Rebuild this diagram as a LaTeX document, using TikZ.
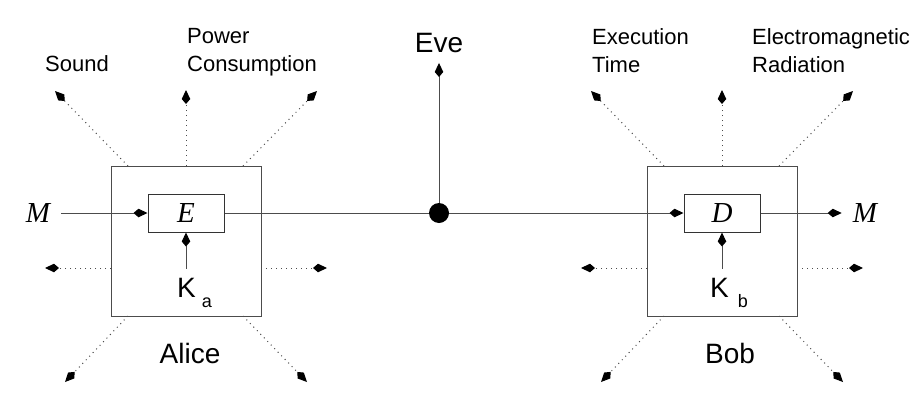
\documentclass[tikz,border=0pt]{standalone}
\usepackage{fontspec}
\setmainfont{Liberation Sans}
\newfontfamily\timesfont{Liberation Serif}
\usetikzlibrary{arrows.meta}
\begin{document}
\begin{tikzpicture}[x=1pt, y=-1pt,
    wire/.style={-{Kite[length=14pt,width=8.5pt,inset=5pt,color=black]}, color=black!70, line width=1pt},
    leak/.style={wire, dash pattern=on 1pt off 4pt},
    box/.style={draw=black!70, line width=1pt, minimum size=150pt, inner sep=0pt},
    cipher/.style={draw=black!80, fill=white, line width=1pt, minimum width=76pt, minimum height=38pt, inner sep=0pt, font=\fontsize{29}{29}\selectfont\timesfont\itshape},
    msg/.style={inner ysep=0pt, inner xsep=11pt, font=\fontsize{29}{29}\selectfont\timesfont\itshape},
    big/.style={inner sep=0pt, font=\fontsize{28}{28}\selectfont},
    small/.style={inner sep=0pt, align=left, font=\fontsize{22}{28}\selectfont}]
  \useasboundingbox (0,0) rectangle (924,410);
  \node[box] (alice) at (186,241) {};
  \node[box] (bob) at (722,241) {};
  \node[cipher] (enc) at (186,213) {E};
  \node[cipher] (dec) at (722,213) {D};
  \node[big, anchor=base west] (ka) at (177,297) {K\hspace{6pt}\raisebox{-10pt}{\fontsize{18}{18}\selectfont a}};
  \node[big, anchor=base west] (kb) at (710,297) {K\hspace{9pt}\raisebox{-10pt}{\fontsize{18}{18}\selectfont b}};
  \node[msg] (min) at (38,213) {M};
  \node[msg] (mout) at (865,213) {M};
  \node[circle, fill=black, minimum size=20pt, inner sep=0pt] (tap) at (439,213) {};
  \node[big] (eve) at (439,43) {Eve};
  \node[big] (alicename) at (190,353) {Alice};
  \node[big] (bobname) at (730,353) {Bob};
  \node[small] (sound) at (77,64) {Sound};
  \node[small, anchor=north west] (power) at (187,28) {Power\\Consumption};
  \node[small, anchor=north west] (time) at (592,28) {Execution\\Time};
  \node[small, anchor=north west] (em) at (752,28) {Electromagnetic\\Radiation};
  \draw[wire] (min) -- (enc);
  \draw[wire, -] (enc) -- (tap);
  \draw[wire] (tap) -- (dec);
  \draw[wire] (dec) -- (mout);
  \draw[wire, shorten >=10pt] (tap) -- (eve);
  \draw[wire, shorten <=9pt] (ka.north -| enc.south) -- (enc.south);
  \draw[wire, shorten <=9pt] (kb.north -| dec.south) -- (dec.south);
  \foreach \bx in {alice,bob}
    \foreach \sx/\sy/\ex/\ey in {-58/-75/-131/-150, 0/-75/0/-151, 57/-75/131/-150, -75/27/-141/27,
        75/27/141/27, -58/75/-121/141, 57/75/121/141}
      \draw[leak] ([shift={(\sx,\sy)}]\bx.center) -- ([shift={(\ex,\ey)}]\bx.center);
\end{tikzpicture}
\end{document}
